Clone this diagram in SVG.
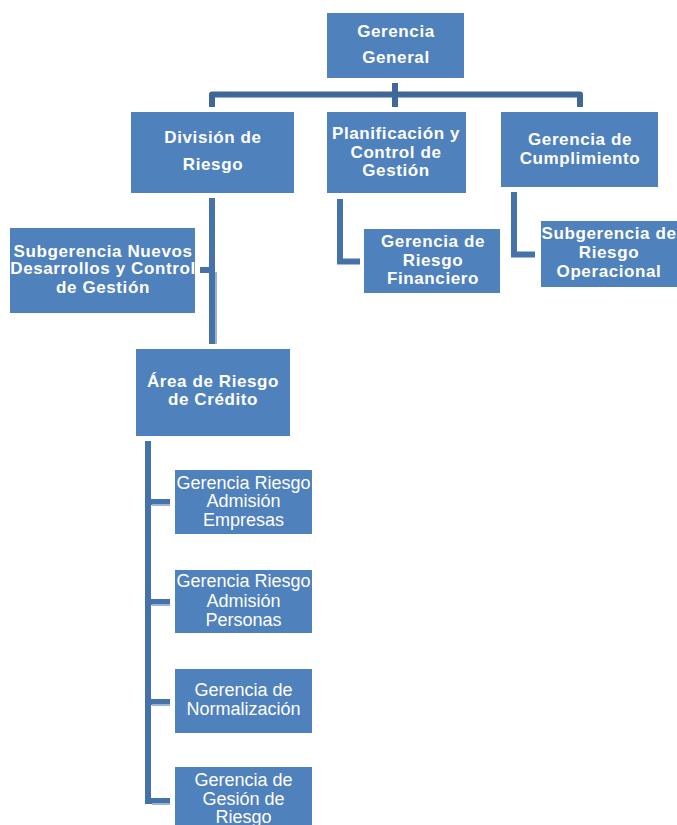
<svg xmlns="http://www.w3.org/2000/svg" width="677" height="825" viewBox="0 0 677 825">
<style>
.box{fill:#4F81BD;}
.b{font-family:"Liberation Sans",Arial,sans-serif;font-weight:bold;font-size:17px;letter-spacing:0.6px;fill:#FFFFFF;text-anchor:middle;}
.r{font-family:"Liberation Sans",Arial,sans-serif;font-size:18px;fill:#FFFFFF;text-anchor:middle;}
.c1{fill:none;stroke:#3F6797;stroke-width:6;stroke-linejoin:round;}
.c2{fill:none;stroke:#4672AA;stroke-width:6;stroke-linejoin:miter;}
.hl{fill:none;stroke:#9DB3D6;stroke-width:2;}
</style>
<rect width="677" height="825" fill="#FFFFFF"/>
<g id="connectors">
<path class="c1" d="M212,107 V94.5 H580 V107"/>
<path class="c1" d="M395,83 V107"/>
<path class="c2" d="M212,198 V344"/>
<line class="hl" x1="216" y1="272" x2="216" y2="344"/>
<path class="c2" d="M200,270 H214"/>
<path class="c2" d="M148,441 V801 H170"/>
<path class="c2" d="M148,502 H170 M148,602 H170 M148,702 H170"/>
<path class="hl" d="M152,505 H170 M152,605 H170 M152,705 H170 M152,804 H170"/>
<path class="c2" d="M340,199 V261.5 H360"/>
<path class="c2" d="M514,192 V254.5 H535"/>
</g>
<g id="gerencia-general">
<rect class="box" x="327" y="13" width="137" height="65"/>
<text class="b" x="396" y="37">Gerencia</text>
<text class="b" x="396" y="63">General</text>
</g>
<g id="division-riesgo">
<rect class="box" x="131" y="112" width="163" height="81"/>
<text class="b" x="213" y="143">División de</text>
<text class="b" x="213" y="170">Riesgo</text>
</g>
<g id="planificacion">
<rect class="box" x="327" y="112" width="139" height="81"/>
<text class="b" x="396" y="139">Planificación y</text>
<text class="b" x="396" y="158">Control de</text>
<text class="b" x="396" y="176">Gestión</text>
</g>
<g id="cumplimiento">
<rect class="box" x="501" y="112" width="157" height="75"/>
<text class="b" x="580" y="145">Gerencia de</text>
<text class="b" x="580" y="164">Cumplimiento</text>
</g>
<g id="subgerencia-nuevos">
<rect class="box" x="10" y="228" width="185" height="85"/>
<text class="b" x="103" y="257">Subgerencia Nuevos</text>
<text class="b" x="103" y="274">Desarrollos y Control</text>
<text class="b" x="103" y="293">de Gestión</text>
</g>
<g id="riesgo-financiero">
<rect class="box" x="364" y="229" width="136" height="64"/>
<text class="b" x="433" y="247">Gerencia de</text>
<text class="b" x="433" y="266">Riesgo</text>
<text class="b" x="433" y="284">Financiero</text>
</g>
<g id="riesgo-operacional">
<rect class="box" x="541" y="221" width="136" height="66"/>
<text class="b" x="609" y="239">Subgerencia de</text>
<text class="b" x="609" y="258">Riesgo</text>
<text class="b" x="609" y="277">Operacional</text>
</g>
<g id="area-credito">
<rect class="box" x="136" y="349" width="154" height="87"/>
<text class="b" x="213" y="387">Área de Riesgo</text>
<text class="b" x="213" y="405">de Crédito</text>
</g>
<g id="admision-empresas">
<rect class="box" x="175" y="470" width="137" height="64"/>
<text class="r" x="243.5" y="489">Gerencia Riesgo</text>
<text class="r" x="243.5" y="507">Admisión</text>
<text class="r" x="243.5" y="526">Empresas</text>
</g>
<g id="admision-personas">
<rect class="box" x="175" y="570" width="137" height="63"/>
<text class="r" x="243.5" y="587">Gerencia Riesgo</text>
<text class="r" x="243.5" y="607">Admisión</text>
<text class="r" x="243.5" y="626">Personas</text>
</g>
<g id="normalizacion">
<rect class="box" x="175" y="669" width="137" height="64"/>
<text class="r" x="243.5" y="696">Gerencia de</text>
<text class="r" x="243.5" y="715">Normalización</text>
</g>
<g id="gestion-riesgo">
<rect class="box" x="175" y="767" width="137" height="58"/>
<text class="r" x="243.5" y="786">Gerencia de</text>
<text class="r" x="243.5" y="805">Gesión de</text>
<text class="r" x="243.5" y="823">Riesgo</text>
</g>
</svg>
